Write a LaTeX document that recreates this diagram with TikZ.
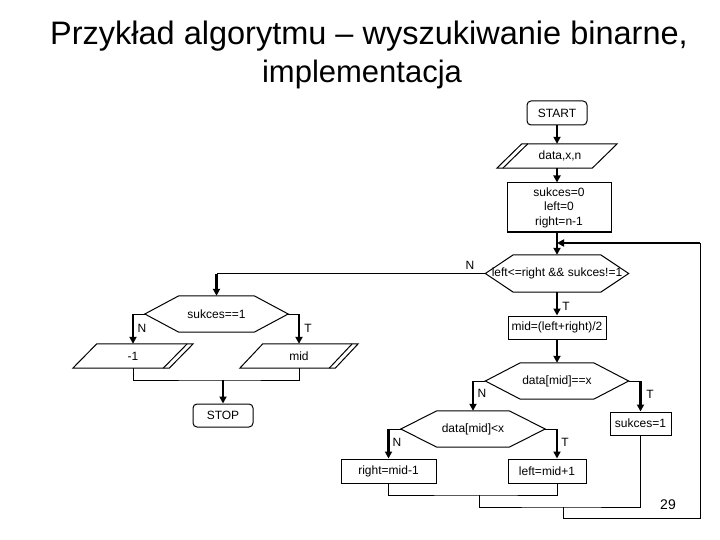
\documentclass[tikz,border=0pt]{standalone}
\usepackage{fontspec}
\setmainfont{Liberation Sans}
\usetikzlibrary{arrows.meta}
\begin{document}
\begin{tikzpicture}[x=1pt,y=-1pt,
  every node/.style={font=\fontsize{12}{14.5}\selectfont, inner sep=0pt},
  line/.style={line width=1pt},
  arr/.style={line width=2.2pt, -{Triangle[length=7pt,width=7pt]}},
  proc/.style={draw, line width=1pt, inner sep=0pt},
  term/.style={proc, rounded corners=4pt},
  outline/.style={inner sep=0pt},
  lbl/.style={font=\fontsize{12}{14}\selectfont},
  ttl/.style={anchor=base}
]
\fill[white] (0,0) rectangle (720,540);
\useasboundingbox (0,0) rectangle (720,540);

% title
\node[ttl, font=\fontsize{32.5}{37}\selectfont] (t1) at (369,45) {Przykład algorytmu – wyszukiwanie binarne,};
\node[ttl, font=\fontsize{31}{37}\selectfont] (t2) at (362,83) {implementacja};

% nodes
\node[term, minimum width=60pt, minimum height=24pt] (start) at (557,113) {START};
\node[outline, minimum width=120pt, minimum height=24pt] (data) at (557,156) {\hspace*{6pt}data,x,n};
\node[proc, minimum width=104pt, minimum height=49pt, align=center] (init) at (559,207.5) {sukces=0\\left=0\\right=n-1};
\node[outline, minimum width=143pt, minimum height=37pt] (dec1) at (557,273.5) {\raisebox{-3pt}{left<=right \&\& sukces!=1}};
\node[proc, minimum width=98pt, minimum height=23pt] (mid1) at (557,327.5) {mid=(left+right)/2};
\node[outline, minimum width=143pt, minimum height=36pt] (dec2) at (557,381) {\raisebox{-3pt}{data[mid]==x}};
\node[outline, minimum width=144pt, minimum height=36pt] (dec3) at (473,429) {\raisebox{-3pt}{data[mid]<x}};
\node[proc, minimum width=61pt, minimum height=23pt] (succ) at (640.5,423.5) {sukces=1};
\node[proc, minimum width=95pt, minimum height=24pt] (rm) at (388.5,471) {right=mid-1};
\node[proc, minimum width=78pt, minimum height=24pt] (lm) at (547,471) {left=mid+1};
\node[outline, minimum width=143pt, minimum height=36pt] (dec4) at (216.5,314) {\raisebox{-2pt}{sukces==1}};
\node[outline, minimum width=120pt, minimum height=24pt] (neg1) at (133,356) {-1};
\node[outline, minimum width=118pt, minimum height=24pt] (midout) at (299,356) {mid};
\node[term, minimum width=60pt, minimum height=23pt] (stop) at (223,415.5) {STOP};
\node[font=\fontsize{14}{16}\selectfont] (pg) at (668,505) {29};

% hexagon outlines
\foreach \n/\c in {dec1/28, dec2/35, dec3/36, dec4/34}{
  \draw[line] (\n.west) -- ([xshift=\c pt]\n.north west) -- ([xshift=-\c pt]\n.north east)
    -- (\n.east) -- ([xshift=-\c pt]\n.south east) -- ([xshift=\c pt]\n.south west) -- cycle;
}
% input parallelogram
\draw[line] (data.south west) -- ([xshift=25pt]data.north west) -- (data.north east)
  -- ([xshift=-25pt]data.south east) -- cycle;
\draw[line] ([xshift=6pt]data.south west) -- ([xshift=31pt]data.north west);
% output parallelograms
\foreach \n/\s in {neg1/24, midout/23}{
  \draw[line] (\n.south west) -- ([xshift=\s pt]\n.north west) -- (\n.north east)
    -- ([xshift=-\s pt]\n.south east) -- cycle;
  \draw[line] ([xshift={-(\s+6)*1pt}]\n.south east) -- ([xshift=-6pt]\n.north east);
}

% main column
\draw[arr] (start.south) -- (data.north);
\draw[arr] (data.south) -- (data.south |- init.north);
\draw[arr] (data.south |- init.south) -- (dec1.north);
\draw[arr] (dec1.south) -- (mid1.north);
\draw[arr] (mid1.south) -- (dec2.north);

% dec1 N branch
\draw[line] (dec1.west) -- (dec1.west -| dec4.north) coordinate (c1);
\draw[arr] (c1) -- (dec4.north);

% dec2 branches
\draw[line] (dec2.west) -- (dec2.west -| dec3.north) coordinate (c2);
\draw[arr] (c2) -- (dec3.north);
\draw[line] (dec2.east) -- (dec2.east -| succ.north) coordinate (c3);
\draw[arr] (c3) -- (succ.north);

% dec3 branches
\draw[line] (dec3.west) -- (dec3.west -| rm.north) coordinate (c4);
\draw[arr] (c4) -- (rm.north);
\coordinate (lmt) at ([xshift=10pt]lm.north);
\coordinate (lmb) at ([xshift=10pt]lm.south);
\draw[line] (dec3.east) -- (dec3.east -| lmt) coordinate (c5);
\draw[arr] (c5) -- (lmt);

% dec4 branches
\draw[line] (dec4.west) -- (dec4.west -| neg1.north) coordinate (c6);
\draw[arr] (c6) -- (neg1.north);
\draw[line] (dec4.east) -- (dec4.east -| midout.north) coordinate (c7);
\draw[arr] (c7) -- (midout.north);

% merge to STOP
\coordinate (m3) at (223,380);
\draw[line] (neg1.south) |- (m3) -| (midout.south);
\draw[arr] (m3) -- (stop.north);

% loop back
\coordinate (m1) at (479,495);
\coordinate (m2) at (563,507);
\coordinate (rc) at (700,518);
\coordinate (rt) at (700,243);
\coordinate (lp) at (557,243);
\draw[line] (rm.south) |- (m1) -| (lmb);
\draw[line] (m1) |- (m2) -| (succ.south);
\draw[line] (m2) |- (rc) -- (rt);
\draw[arr] (rt) -- (lp);

% branch labels
\node[lbl] (n1) at (470,265) {N};
\node[lbl] (y1) at (566,306) {T};
\node[lbl] (n4) at (142,328) {N};
\node[lbl] (y4) at (308,328) {T};
\node[lbl] (n2) at (482,393) {N};
\node[lbl] (y2) at (650,394) {T};
\node[lbl] (n3) at (397,442) {N};
\node[lbl] (y3) at (565,442) {T};
\end{tikzpicture}
\end{document}
